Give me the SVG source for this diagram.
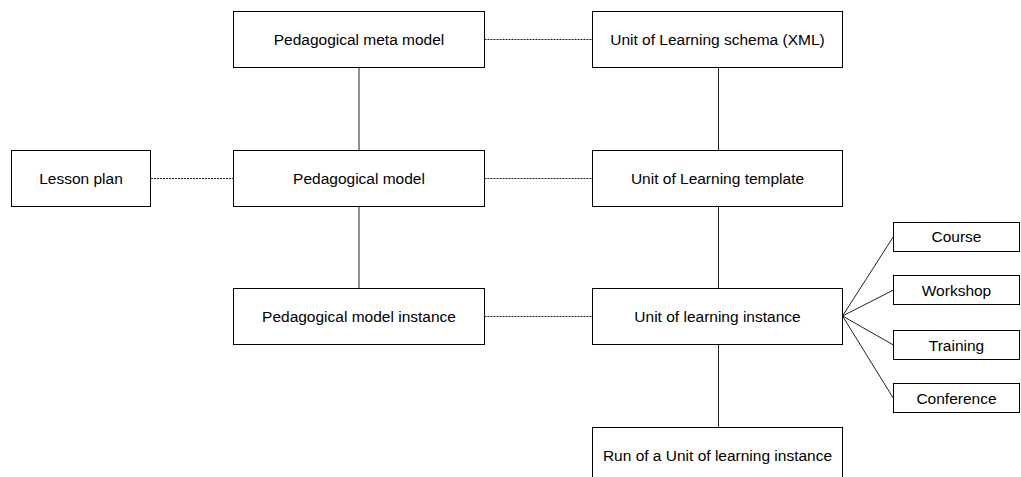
<svg xmlns="http://www.w3.org/2000/svg" width="1021" height="477" viewBox="0 0 1021 477">
<style>
.box{fill:#fff;stroke:#000;stroke-width:1}
.lbl{font-family:"Liberation Sans",Arial,sans-serif;font-size:15.5px;fill:#000;text-anchor:middle}
.solid{stroke:#222;stroke-width:1;fill:none}
.dash{stroke:#222;stroke-width:1;fill:none;stroke-dasharray:2 1}
</style>
<rect width="1021" height="477" fill="#fff"/>
<g id="connectors">
<line class="solid" x1="359" y1="67" x2="359" y2="150"/>
<line class="solid" x1="359" y1="206" x2="359" y2="288"/>
<line class="solid" x1="718.5" y1="67" x2="718.5" y2="150"/>
<line class="solid" x1="718.5" y1="206" x2="718.5" y2="288"/>
<line class="solid" x1="718.5" y1="344" x2="718.5" y2="427"/>
<line class="dash" x1="484.5" y1="39.5" x2="592.5" y2="39.5"/>
<line class="dash" x1="151" y1="178.5" x2="233.5" y2="178.5"/>
<line class="dash" x1="484.5" y1="178.5" x2="592.5" y2="178.5"/>
<line class="dash" x1="484.5" y1="316.5" x2="592.5" y2="316.5"/>
<line class="solid" x1="842.5" y1="316" x2="893.5" y2="236.5"/>
<line class="solid" x1="842.5" y1="316" x2="893.5" y2="290"/>
<line class="solid" x1="842.5" y1="316" x2="893.5" y2="345"/>
<line class="solid" x1="842.5" y1="316" x2="893.5" y2="398.5"/>
</g>
<g id="meta-model"><rect class="box" x="233.5" y="11.5" width="251" height="56"/><text class="lbl" x="359" y="45">Pedagogical meta model</text></g>
<g id="uol-schema"><rect class="box" x="592.5" y="11.5" width="250" height="56"/><text class="lbl" x="717.5" y="45">Unit of Learning schema (XML)</text></g>
<g id="lesson-plan"><rect class="box" x="11.5" y="150.5" width="139" height="56"/><text class="lbl" x="81" y="184">Lesson plan</text></g>
<g id="ped-model"><rect class="box" x="233.5" y="150.5" width="251" height="56"/><text class="lbl" x="359" y="184">Pedagogical model</text></g>
<g id="uol-template"><rect class="box" x="592.5" y="150.5" width="250" height="56"/><text class="lbl" x="717.5" y="184">Unit of Learning template</text></g>
<g id="ped-instance"><rect class="box" x="233.5" y="288.5" width="251" height="56"/><text class="lbl" x="359" y="322">Pedagogical model instance</text></g>
<g id="uol-instance"><rect class="box" x="592.5" y="288.5" width="250" height="56"/><text class="lbl" x="717.5" y="322">Unit of learning instance</text></g>
<g id="run"><rect class="box" x="592.5" y="427.5" width="250" height="56"/><text class="lbl" x="717.5" y="461">Run of a Unit of learning instance</text></g>
<g id="course"><rect class="box" x="893.5" y="222.5" width="126" height="29"/><text class="lbl" x="956.5" y="242">Course</text></g>
<g id="workshop"><rect class="box" x="893.5" y="275.5" width="126" height="29"/><text class="lbl" x="956.5" y="295.5">Workshop</text></g>
<g id="training"><rect class="box" x="893.5" y="330.5" width="126" height="29"/><text class="lbl" x="956.5" y="350.5">Training</text></g>
<g id="conference"><rect class="box" x="893.5" y="383.5" width="126" height="29"/><text class="lbl" x="956.5" y="403.5">Conference</text></g>
</svg>
